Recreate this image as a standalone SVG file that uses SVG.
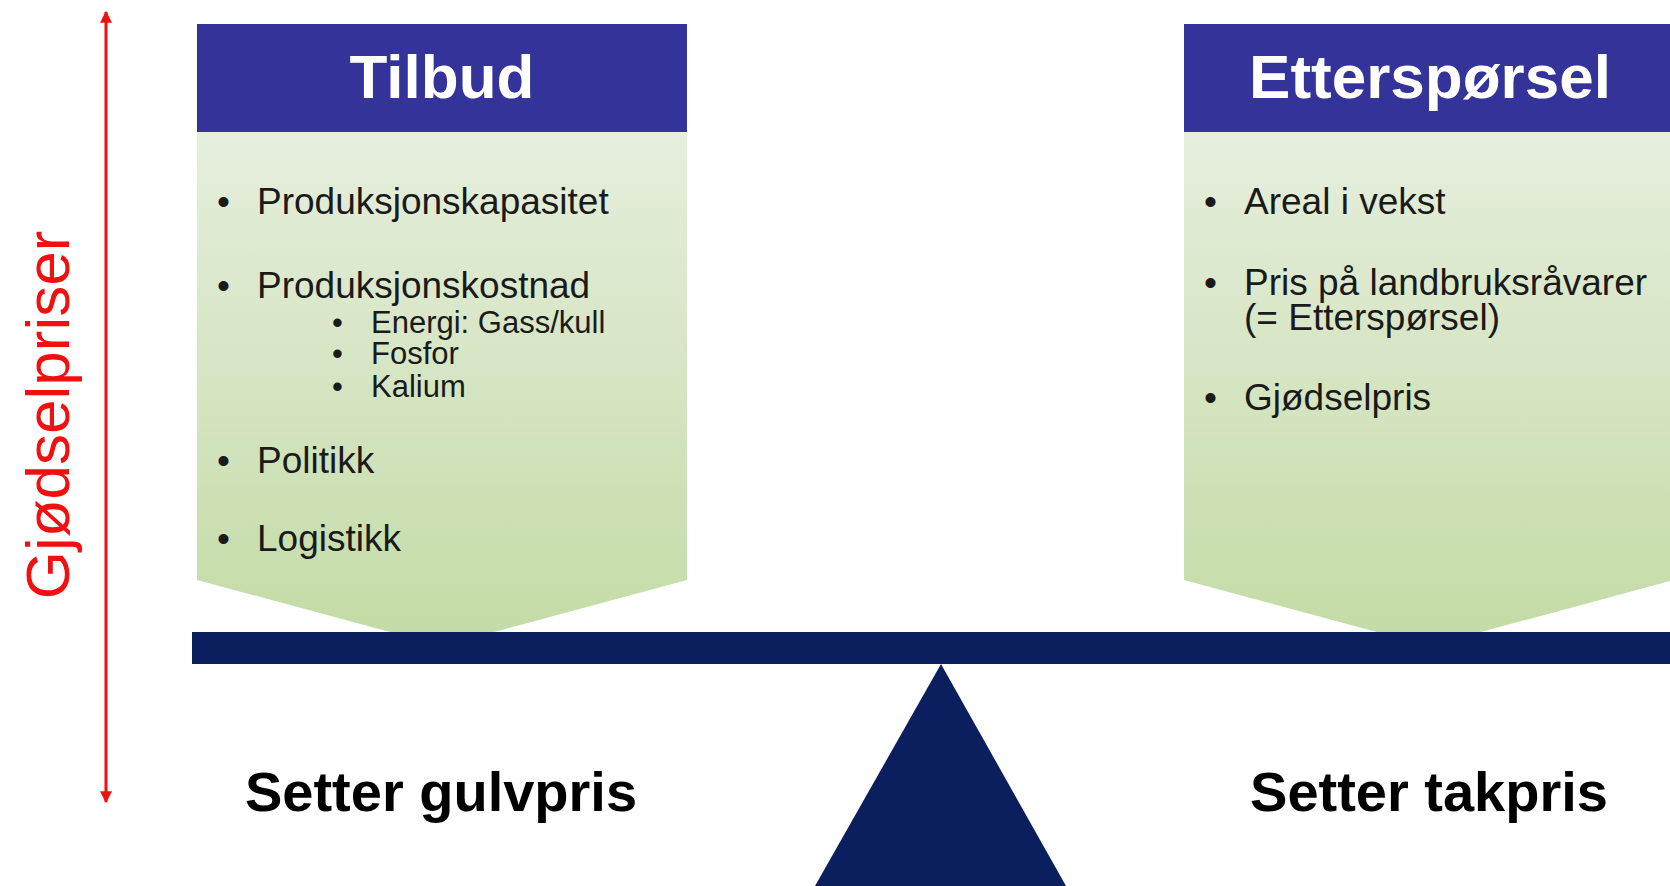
<svg xmlns="http://www.w3.org/2000/svg" width="1670" height="886" viewBox="0 0 1670 886">
<defs>
<linearGradient id="g" x1="0" y1="0" x2="0" y2="1">
<stop offset="0" stop-color="#e6eedd"/>
<stop offset="1" stop-color="#c3dba5"/>
</linearGradient>
<marker id="ah" viewBox="0 0 10 10" refX="9" refY="5" markerWidth="4" markerHeight="4" orient="auto-start-reverse" markerUnits="strokeWidth">
<path d="M0,0 L10,5 L0,10 z" fill="#f01010"/>
</marker>
<style>
.hd{fill:#333399}
.ht{font-family:"Liberation Sans",Arial,sans-serif;font-weight:bold;font-size:62px;fill:#ffffff;text-anchor:middle}
.b{font-family:"Liberation Sans",Arial,sans-serif;font-size:37px;fill:#1a1a1a}
.s{font-family:"Liberation Sans",Arial,sans-serif;font-size:31px;fill:#1a1a1a}
.lb{font-family:"Liberation Sans",Arial,sans-serif;font-weight:bold;font-size:56px;fill:#000000;text-anchor:middle}
.navy{fill:#0b1f5e}
</style>
</defs>
<rect width="1670" height="886" fill="#ffffff"/>

<g id="connectors">
<line x1="106" y1="12" x2="106" y2="802" stroke="#f01010" stroke-width="3" marker-start="url(#ah)" marker-end="url(#ah)"/>
</g>

<g id="axis-label">
<text x="69" y="415" transform="rotate(-90 69 415)" font-family="'Liberation Sans',Arial,sans-serif" font-size="62" fill="#f01010" text-anchor="middle">Gjødselpriser</text>
</g>

<g id="tilbud">
<polygon points="197,132 687,132 687,580 442,646 197,580" fill="url(#g)"/>
<rect class="hd" x="197" y="24" width="490" height="108"/>
<text class="ht" x="442" y="98">Tilbud</text>
<text class="b" x="217" y="214">•</text><text class="b" x="257" y="214">Produksjonskapasitet</text>
<text class="b" x="217" y="298">•</text><text class="b" x="257" y="298">Produksjonskostnad</text>
<text class="s" x="332" y="333">•</text><text class="s" x="371" y="333">Energi: Gass/kull</text>
<text class="s" x="332" y="364">•</text><text class="s" x="371" y="364">Fosfor</text>
<text class="s" x="332" y="397">•</text><text class="s" x="371" y="397">Kalium</text>
<text class="b" x="217" y="473">•</text><text class="b" x="257" y="473">Politikk</text>
<text class="b" x="217" y="551">•</text><text class="b" x="257" y="551">Logistikk</text>
</g>

<g id="ettersporsel">
<polygon points="1184,132 1674,132 1674,580 1429,646 1184,580" fill="url(#g)"/>
<rect class="hd" x="1184" y="24" width="490" height="108"/>
<text class="ht" x="1430" y="98">Etterspørsel</text>
<text class="b" x="1204" y="214">•</text><text class="b" x="1244" y="214">Areal i vekst</text>
<text class="b" x="1204" y="295">•</text><text class="b" x="1244" y="295">Pris på landbruksråvarer</text>
<text class="b" x="1244" y="330">(= Etterspørsel)</text>
<text class="b" x="1204" y="410">•</text><text class="b" x="1244" y="410">Gjødselpris</text>
</g>

<g id="beam">
<rect class="navy" x="192" y="632" width="1478" height="32"/>
</g>

<g id="fulcrum">
<polygon class="navy" points="941,664 1066,886 815,886"/>
</g>

<g id="label-gulvpris">
<text class="lb" x="441" y="811">Setter gulvpris</text>
</g>
<g id="label-takpris">
<text class="lb" x="1429" y="811">Setter takpris</text>
</g>
</svg>
